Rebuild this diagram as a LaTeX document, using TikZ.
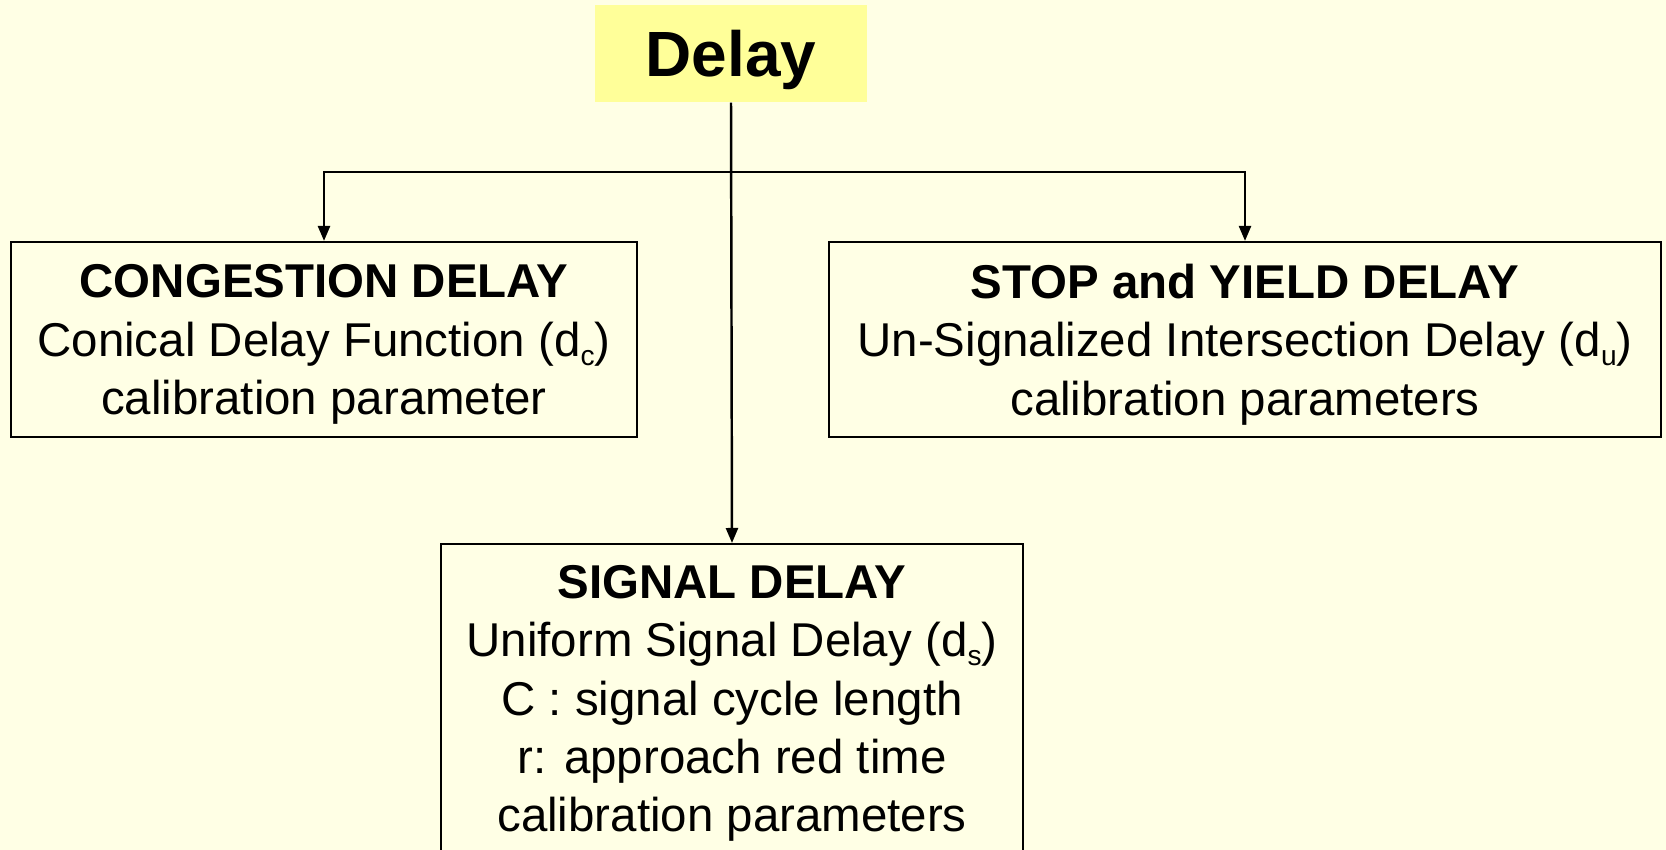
\documentclass[tikz,border=0pt]{standalone}
\usepackage{fontspec}
\setmainfont{Liberation Sans}
\usetikzlibrary{arrows.meta}

\definecolor{paper}{RGB}{255,255,229}
\definecolor{hilite}{RGB}{255,255,153}

% small lowered index, as in d_c
\newcommand{\lowsub}[1]{\raisebox{-2.6pt}{\fontsize{8}{8}\selectfont #1}}

\tikzset{
    box/.style={draw, line width=0.6pt, align=center, inner sep=0pt, text depth=0pt,
        font=\fontsize{13.5}{16.6}\selectfont},
    link/.style={-{Triangle[length=1.5mm, width=1.2mm]}, line width=0.7pt},
}

\begin{document}
\begin{tikzpicture}
    % Page
    \fill[paper] (0,0) rectangle (16.66,-8.5);
    \useasboundingbox (0,0) rectangle (16.66,-8.5);

    % Root
    \node[fill=hilite, minimum width=2.72cm, minimum height=0.97cm, inner sep=0pt, text depth=0pt,
        font=\fontsize{18.2}{20}\selectfont\bfseries] (delay) at (7.31,-0.535) {Delay};

    % The three kinds of delay
    \node[box, minimum width=6.26cm, minimum height=1.95cm] (cong) at (3.24,-3.395)
        {\textbf{CONGESTION DELAY}\\Conical Delay Function (d\lowsub{c})\\calibration parameter};
    \node[box, minimum width=8.32cm, minimum height=1.95cm] (stop) at (12.45,-3.395)
        {\textbf{STOP and YIELD DELAY}\\Un-Signalized Intersection Delay (d\lowsub{u})\\calibration parameters};
    \node[box, anchor=north, minimum width=5.82cm, minimum height=3.09cm] (signal) at (7.32,-5.43)
        {\textbf{SIGNAL DELAY}\\Uniform Signal Delay (d\lowsub{s})\\C : signal cycle length\\r: approach red time\\calibration parameters};

    % Connectors
    \coordinate (split) at (7.31,-1.72);
    \draw[link] (delay.south) -- (signal.north);
    \draw[link] (split) -| (cong.north);
    \draw[link] (split) -| (stop.north);
\end{tikzpicture}
\end{document}
